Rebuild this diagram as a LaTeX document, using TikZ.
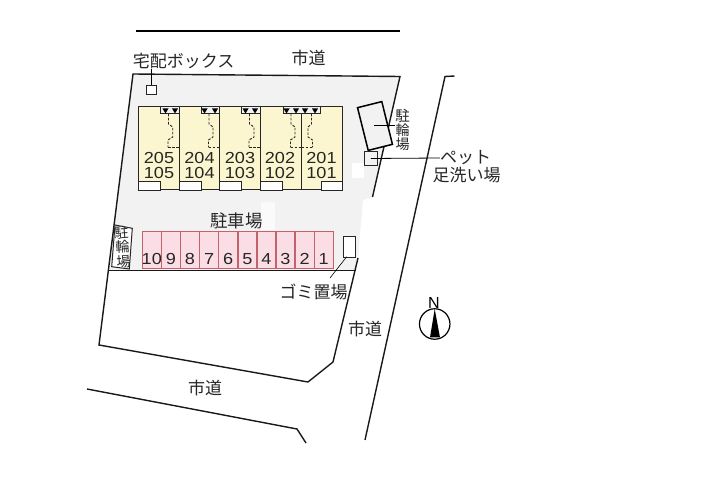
\documentclass[tikz,border=0pt]{standalone}
\usepackage{fontspec}
\setmainfont{Liberation Sans}
\newfontfamily\jp{Noto Sans CJK JP}
\definecolor{sitegray}{HTML}{F2F2F2}
\definecolor{cream}{HTML}{FBF6CF}
\definecolor{pinkfill}{HTML}{FBDDE5}
\definecolor{pinkline}{HTML}{C4626C}
\tikzset{x=1pt,y=-1pt,
  jl/.style={font=\jp\fontsize{#1}{#1}\selectfont,inner sep=0pt,text=black!85},
  num/.style={font=\fontsize{16}{16}\selectfont,inner sep=0pt,text=black!85,xscale=1.13},
  unit/.style={draw=black!85,line width=1pt,fill=cream},
  park/.style={draw=pinkline,line width=1.4pt,fill=pinkfill},
  carbox/.style={draw=black!85,line width=.9pt,fill=white},
  wall/.style={draw=black!90,line width=1.4pt},
  lead/.style={draw=black,line width=.8pt},
  dashline/.style={draw=black!85,line width=.9pt,dash pattern=on 2.5pt off 1.5pt}}
\newcommand{\mytri}[2]{\fill ({#1-3},#2) -- ({#1+3},#2) -- (#1,{#2+5}) -- cycle;}
\begin{document}
\begin{tikzpicture}
\useasboundingbox (0,0) rectangle (726,478);
\fill[white] (0,0) rectangle (726,478);
% site
\fill[sitegray] (133,74) -- (400,76.5) -- (372.5,197) -- (363,200) -- (358,258) -- (356,271) -- (108.5,271) -- cycle;
\fill[white] (352,163) rectangle (364,178);
\fill[white!60!sitegray] (261,202) rectangle (275,230);
\draw[line width=1.4pt] (136,31) -- (400,31);
\draw[wall] (372.5,197) -- (400,76.5) -- (133,74) -- (99,345) -- (308,382) -- (333,362) -- (358,258);
\draw[wall,line width=1.1pt] (108.5,270.5) -- (356,270.5);
% roads
\draw[wall] (454.5,76) -- (445,76.5) -- (365,440);
\draw[wall] (87,389) -- (297,429) -- (306,443);
% buildings
\foreach \a/\b in {138/179,179/219.5,219.5/260.7,260.7/301.7,301.7/342.3}
  \draw[unit] (\a,107) rectangle (\b,190);
\foreach \a/\b in {160.7/179,201/219.5,241.7/260.7,283.3/320}
  \draw[draw=black!85,line width=1pt,fill=sitegray] (\a,107) -- (\a,114) -- (\b,114) -- (\b,107);
\foreach \a/\b in {138/160,179/201,219.5/241,260.7/282.7,321/342.3}
  \draw[carbox] (\a,181) rectangle (\b,190);
\foreach \x in {165.5,175,204.5,215,245.5,255,286.5,296,305,315}
  {\mytri{\x}{108.5}}
\draw[dashline] (168.5,114) -- (168.5,124) -- (172.7,127) -- (172.7,137) -- (168,140) -- (168,147.3);
\draw[dashline] (168,147.3) -- (179,147.3);
\draw[dashline] (209,114) -- (209,124) -- (213,127) -- (213,137) -- (208.5,140) -- (208.5,147.3);
\draw[dashline] (208.5,147.3) -- (219.5,147.3);
\draw[dashline] (249.5,114) -- (249.5,124) -- (254,127) -- (254,137) -- (249,140) -- (249,147.3);
\draw[dashline] (249,147.3) -- (260.7,147.3);
\draw[dashline] (291,114) -- (291,124) -- (295,127) -- (295,137) -- (290.5,140) -- (290.5,147.3);
\draw[dashline] (290.5,147.3) -- (301.7,147.3);
\draw[dashline] (311.5,114) -- (311.5,124) -- (308,127) -- (308,137) -- (312.5,140) -- (312.5,147.3);
\draw[dashline] (301.7,147.3) -- (312.5,147.3);
\foreach \n/\m/\x in {205/105/159,204/104/199.5,203/103/240,202/102/280,201/101/321.5}{
  \node[num] (u\n) at (\x,157.5) {\n};
  \node[num] (u\m) at (\x,172.5) {\m};}
% parking
\foreach \t [count=\i from 0] in {10,9,8,7,6,5,4,3,2,1}{
  \draw[park] ({142.3+\i*19.1},231.7) rectangle ({142.3+(\i+1)*19.1},268.3);
  \node[num] (p\t) at ({151.8+\i*19.1},259) {\t};}
\node[jl=17.5] (parkinglabel) at (236.7,220.7) {駐車場};
% left bike
\draw[draw=black!85,line width=1pt,fill=white] (115,225) -- (132.3,228.3) -- (129.3,269) -- (111.7,266.7) -- cycle;
\node[jl=14,rotate=4,align=center] (bikeL) at (122.5,247) {\fontsize{14}{14}\selectfont 駐\\[.5pt]輪\\[.5pt]場};
% right bike
\node[draw=black,line width=1.5pt,minimum width=25pt,minimum height=44pt,inner sep=0pt,rotate=14,fill=sitegray] (bikeR) at (375,126) {};
\node[jl=14,align=center] (bikeRlabel) at (402.7,130) {\fontsize{14.5}{16.3}\selectfont 駐\\輪\\場};
\coordinate (bikeRin) at (374.3,125.7);
\draw[line width=1.2pt] (bikeRin) -- (395,125.7);
% pet
\node[draw=black!85,line width=.8pt,fill=sitegray,minimum width=13pt,minimum height=13.5pt,inner sep=0pt] (pet) at (370.8,158.5) {};
\node[jl=17] (petA) at (465.5,158) {ペット};
\node[jl=17] (petB) at (466.5,175) {足洗い場};
\draw[lead] (pet.center) -- (petA.west);
% trash
\node[draw=black!85,line width=.8pt,fill=white,minimum width=12.4pt,minimum height=20.6pt,inner sep=0pt] (trash) at (349.5,247) {};
\node[jl=17] (trashlabel) at (313.5,291.7) {ゴミ置場};
\coordinate (trashin) at (346.7,256.7);
\coordinate (trashout) at (330,278);
\draw[lead,line width=.6pt] (trashin) -- (trashout);
% delivery
\node[jl=17] (deliv) at (183.5,61) {宅配ボックス};
\node[draw=black!85,line width=.8pt,fill=white,minimum width=10pt,minimum height=9pt,inner sep=0pt] (dbox) at (151.5,89.5) {};
\coordinate (delivtop) at (151.5,69);
\draw[lead] (delivtop) -- (dbox.north);
% roads labels
\node[jl=17] (r1) at (308.5,58) {市道};
\node[jl=17] (r2) at (365,329) {市道};
\node[jl=17] (r3) at (205,388) {市道};
% north
\node[circle,draw=black,line width=1.2pt,minimum size=30.5pt,inner sep=0pt] (comp) at (434.7,324) {};
\fill (434.7,309) -- (430,337.5) -- (440,337.5) -- cycle;
\node[font=\fontsize{16}{16}\selectfont,inner sep=0pt] (north) at (434,302.5) {N};
\end{tikzpicture}
\end{document}
